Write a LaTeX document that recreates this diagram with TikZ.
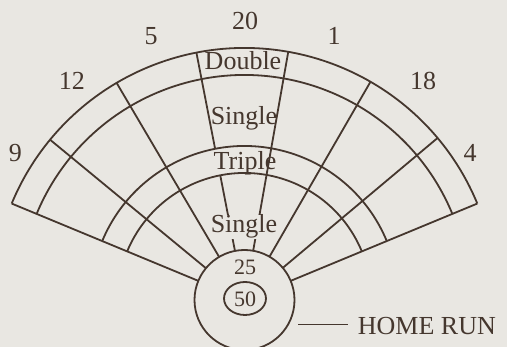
\documentclass[tikz,border=0pt]{standalone}
\usepackage{fontspec}
\setmainfont{Liberation Serif}
\definecolor{bg}{HTML}{E9E7E2}
\definecolor{ink}{HTML}{45372E}
\begin{document}
\begin{tikzpicture}[x=1pt,y=1pt,line width=1.8pt,
  lbl/.style={font=\fontsize{26}{30}\selectfont,text=ink,inner sep=0pt,anchor=base},
  small/.style={font=\fontsize{22}{26}\selectfont,text=ink,inner sep=0pt,anchor=base}]
\fill[bg] (0,0) rectangle (507,347);
\useasboundingbox (0,0) rectangle (507,347);
\coordinate (C) at (244.5,47);
\foreach \r in {127,154,225,252}
  \draw[ink] ([shift={(22.5:\r pt)}]C) arc[start angle=22.5,end angle=157.5,radius=\r pt];
\draw[ink] (C) circle[radius=50pt];
\draw[ink] (245,48.5) ellipse[x radius=21pt,y radius=16.5pt];
\foreach \a in {22.5,40,60,120.5,140.5,157.5}
  \draw[ink] ([shift={(\a:50pt)}]C) -- ([shift={(\a:252pt)}]C);
\draw[ink] ([shift={(101:50pt)}]C) -- ([shift={(101:127pt)}]C);
\draw[ink] ([shift={(101:154pt)}]C) -- ([shift={(101:252pt)}]C);
\draw[ink] ([shift={(80:50pt)}]C) -- ([shift={(80:252pt)}]C);
\node[lbl] (n20) at (245,317) {20};
\node[lbl] (n5) at (151,302) {5};
\node[lbl] (n1) at (334,302) {1};
\node[lbl] (n12) at (72,257) {12};
\node[lbl] (n18) at (423,257) {18};
\node[lbl] (n9) at (15.5,185) {9};
\node[lbl] (n4) at (470,185) {4};
\node[lbl] (dbl) at (243,277) {Double};
\node[lbl] (s1) at (244,222) {Single};
\node[lbl] (tr) at (245,177) {Triple};
\node[lbl,fill=bg] (s2) at (244,114) {Single};
\node[small] (n25) at (245,72) {25};
\node[small] (n50) at (245,40) {50};
\node[lbl,anchor=base west] (hr) at (357,12) {HOME RUN};
\coordinate (d) at (298,22.5);
\draw[ink,line width=1.4pt] (d) -- ([xshift=-9pt]hr.west |- d);
\end{tikzpicture}
\end{document}
